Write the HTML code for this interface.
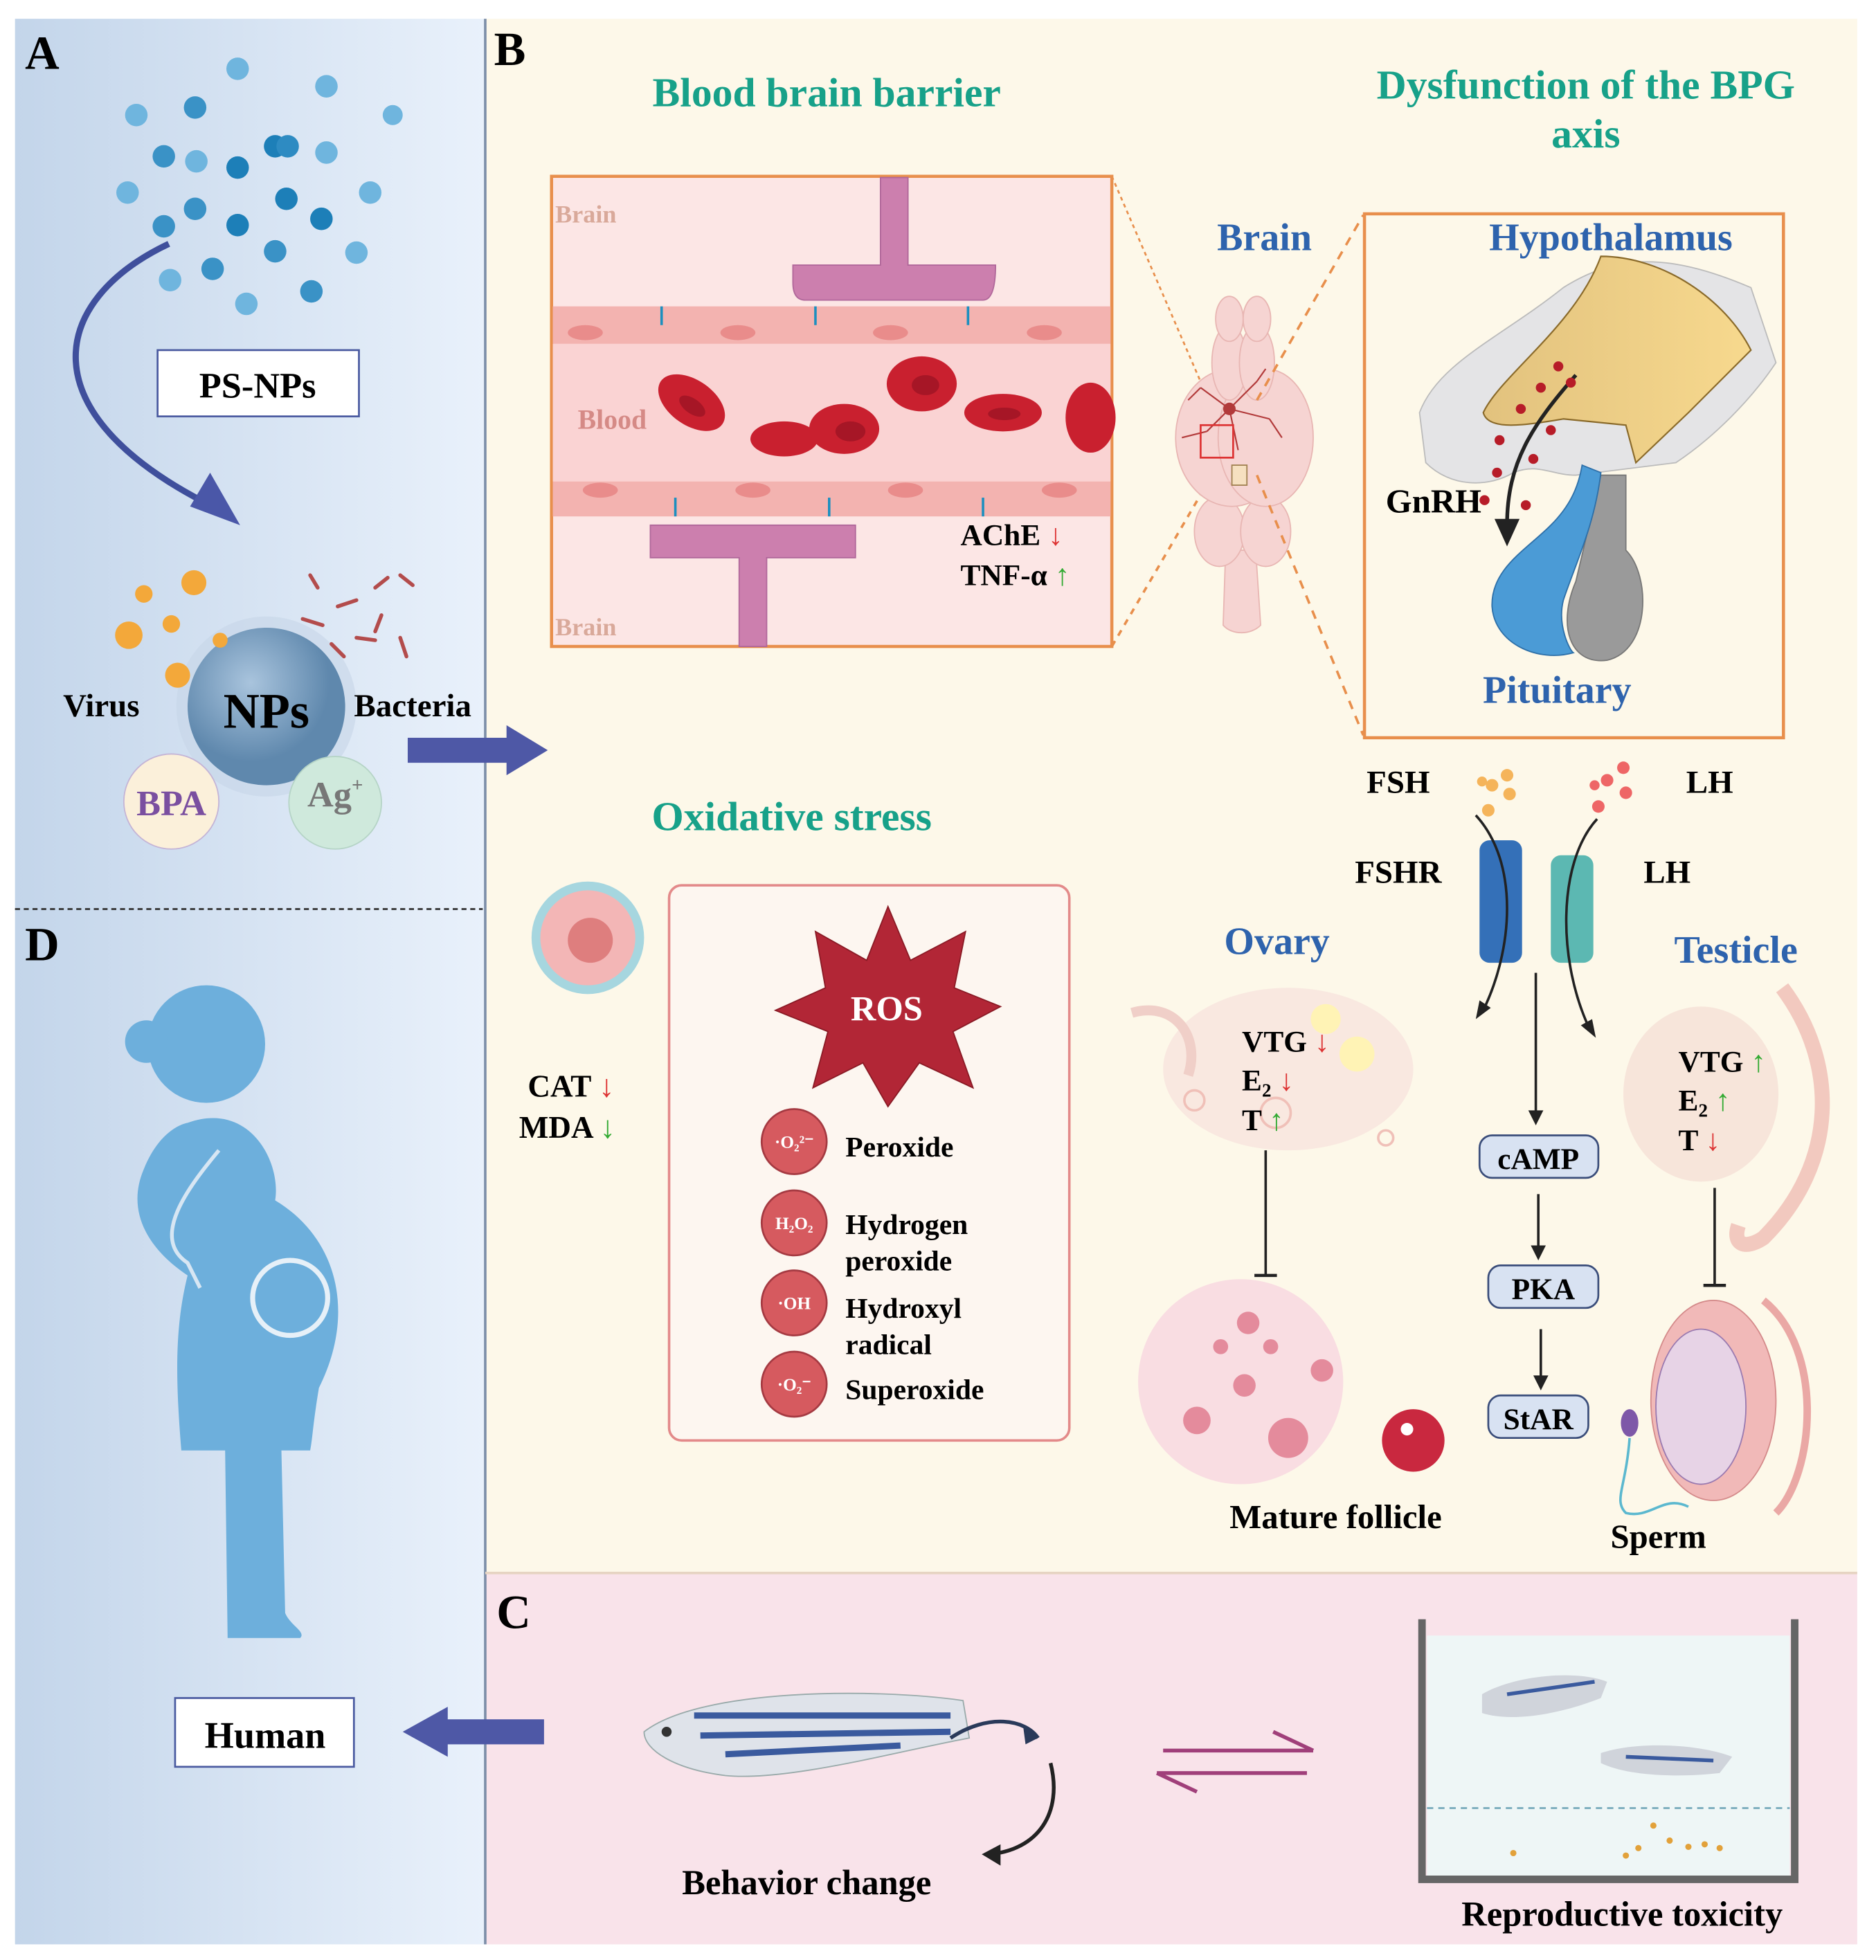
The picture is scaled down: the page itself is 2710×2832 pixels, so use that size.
<!DOCTYPE html>
<html><head><meta charset="utf-8"><style>
html,body{margin:0;padding:0;background:#fff}
svg{display:block}
text{font-family:"Liberation Serif",serif;font-weight:bold}
</style></head><body>
<svg width="2710" height="2832" viewBox="0 0 1500 1567.5" xmlns="http://www.w3.org/2000/svg">
<defs>
<linearGradient id="lg" x1="0" x2="1" y1="0" y2="0"><stop offset="0" stop-color="#c3d5ea"/><stop offset="1" stop-color="#e9f1fb"/></linearGradient>
<radialGradient id="np" cx="0.4" cy="0.35"><stop offset="0" stop-color="#a9c4dd"/><stop offset="1" stop-color="#5f88ad"/></radialGradient>
<linearGradient id="hy" x1="0" x2="1"><stop offset="0" stop-color="#e2c27e"/><stop offset="1" stop-color="#f7d98e"/></linearGradient>
</defs>
<rect width="1500" height="1568" fill="#fff"/>
<rect x="12" y="15" width="376" height="1540" fill="url(#lg)"/>
<line x1="12" y1="727" x2="386" y2="727" stroke="#333" stroke-width="1.5" stroke-dasharray="4,3"/>
<rect x="388" y="15" width="1097" height="1243" fill="#fdf8e9"/>
<rect x="388" y="1258" width="1097" height="297" fill="#f9e3ea"/>
<line x1="388" y1="15" x2="388" y2="1555" stroke="#7d8ea8" stroke-width="2"/>
<line x1="388" y1="1258" x2="1485" y2="1258" stroke="#e6d4c2" stroke-width="2"/>

<text x="20" y="55" font-size="38">A</text>
<text x="395" y="52" font-size="38">B</text>
<text x="397" y="1302" font-size="38">C</text>
<text x="20" y="768" font-size="38">D</text>

<g fill="#6fb5de">
<circle cx="190" cy="55" r="9"/><circle cx="261" cy="69" r="9"/><circle cx="109" cy="92" r="9"/><circle cx="156" cy="86" r="9" fill="#3a92c6"/><circle cx="314" cy="92" r="8"/>
<circle cx="131" cy="125" r="9" fill="#3a92c6"/><circle cx="157" cy="129" r="9"/><circle cx="190" cy="134" r="9" fill="#1d7fb8"/><circle cx="220" cy="117" r="9" fill="#1d7fb8"/><circle cx="230" cy="117" r="9" fill="#2e8bc2"/><circle cx="261" cy="122" r="9"/>
<circle cx="102" cy="154" r="9"/><circle cx="156" cy="167" r="9" fill="#3a92c6"/><circle cx="229" cy="159" r="9" fill="#1d7fb8"/><circle cx="296" cy="154" r="9"/>
<circle cx="131" cy="181" r="9" fill="#3a92c6"/><circle cx="190" cy="180" r="9" fill="#1d7fb8"/><circle cx="257" cy="175" r="9" fill="#1d7fb8"/>
<circle cx="220" cy="201" r="9" fill="#3a92c6"/><circle cx="285" cy="202" r="9"/><circle cx="170" cy="215" r="9" fill="#3a92c6"/><circle cx="136" cy="224" r="9"/><circle cx="249" cy="233" r="9" fill="#3a92c6"/><circle cx="197" cy="243" r="9"/>
</g>
<path d="M135,195 C40,240 20,330 170,405" fill="none" stroke="#3f4f9c" stroke-width="5"/>
<polygon points="192,420 152,405 168,378" fill="#4a57a8"/>
<rect x="126" y="280" width="161" height="53" fill="#fff" stroke="#4a5aa0" stroke-width="1.5"/>
<text x="206" y="318" font-size="29" text-anchor="middle">PS-NPs</text>
<circle cx="213" cy="565" r="72" fill="#c6d6e8" opacity="0.6"/>
<circle cx="213" cy="565" r="63" fill="url(#np)"/>
<circle cx="137" cy="641" r="38" fill="#fbf0da" stroke="#c4b4d6"/>
<text x="137" y="652" font-size="29" fill="#7a4fa0" text-anchor="middle">BPA</text>
<circle cx="268" cy="642" r="37" fill="#cfe9dc" stroke="#b5d4c6"/>
<text x="268" y="645" font-size="29" fill="#777" text-anchor="middle">Ag<tspan font-size="16" dy="-12">+</tspan></text>
<text x="213" y="582" font-size="40" text-anchor="middle">NPs</text>
<text x="81" y="573" font-size="26" text-anchor="middle">Virus</text>
<text x="330" y="573" font-size="26" text-anchor="middle">Bacteria</text>
<g fill="#f3a83a"><circle cx="155" cy="466" r="10"/><circle cx="115" cy="475" r="7"/><circle cx="103" cy="508" r="11"/><circle cx="137" cy="499" r="7"/><circle cx="142" cy="540" r="10"/><circle cx="176" cy="512" r="6"/></g>
<g stroke="#b34c4c" stroke-width="3" stroke-linecap="round">
<line x1="248" y1="460" x2="254" y2="470"/><line x1="270" y1="485" x2="285" y2="480"/><line x1="300" y1="470" x2="310" y2="462"/><line x1="320" y1="460" x2="330" y2="468"/><line x1="305" y1="492" x2="300" y2="505"/><line x1="242" y1="495" x2="258" y2="500"/><line x1="265" y1="515" x2="275" y2="525"/><line x1="320" y1="510" x2="325" y2="525"/><line x1="285" y1="510" x2="300" y2="512"/>
</g>
<polygon points="326,590 405,590 405,580 438,600 405,620 405,610 326,610" fill="#4e58a6"/>

<g fill="#6dafdc">
<circle cx="165" cy="835" r="47"/><circle cx="117" cy="833" r="17"/>
<path d="M150,898 C200,880 225,930 220,960 C270,990 285,1050 255,1110 C250,1140 250,1150 248,1160 L225,1160 L228,1290 C232,1300 245,1305 240,1310 L182,1310 L180,1160 L145,1160 C140,1100 140,1060 150,1020 C120,1000 100,970 115,935 C125,910 140,900 150,898 Z"/>
</g>
<path d="M175,920 C150,950 120,990 150,1010 L160,1030" fill="none" stroke="#d7e6f3" stroke-width="3"/>
<circle cx="232" cy="1038" r="30" fill="none" stroke="#e6f0f8" stroke-width="4"/>
<rect x="140" y="1358" width="143" height="55" fill="#fff" stroke="#4a5aa0" stroke-width="1.5"/>
<text x="212" y="1398" font-size="30" text-anchor="middle">Human</text>
<polygon points="435,1375 358,1375 358,1365 322,1385 358,1405 358,1395 435,1395" fill="#4e58a6"/>

<text x="661" y="85" font-size="33" fill="#17a189" text-anchor="middle">Blood brain barrier</text>
<text x="1268" y="79" font-size="33" fill="#17a189" text-anchor="middle">Dysfunction of the  BPG</text>
<text x="1268" y="118" font-size="33" fill="#17a189" text-anchor="middle">axis</text>
<text x="633" y="664" font-size="33" fill="#17a189" text-anchor="middle">Oxidative stress</text>

<rect x="441" y="141" width="448" height="376" fill="#fce6e5" stroke="#e88f4c" stroke-width="2.5"/>
<rect x="442" y="245" width="446" height="30" fill="#f3b3b0"/>
<rect x="442" y="385" width="446" height="28" fill="#f3b3b0"/>
<rect x="442" y="275" width="446" height="110" fill="#fad3d3"/>
<g fill="#e98c8b"><ellipse cx="468" cy="266" rx="14" ry="6"/><ellipse cx="590" cy="266" rx="14" ry="6"/><ellipse cx="712" cy="266" rx="14" ry="6"/><ellipse cx="835" cy="266" rx="14" ry="6"/><ellipse cx="480" cy="392" rx="14" ry="6"/><ellipse cx="602" cy="392" rx="14" ry="6"/><ellipse cx="724" cy="392" rx="14" ry="6"/><ellipse cx="847" cy="392" rx="14" ry="6"/></g>
<g stroke="#1c8fbf" stroke-width="2"><line x1="529" y1="245" x2="529" y2="260"/><line x1="652" y1="245" x2="652" y2="260"/><line x1="774" y1="245" x2="774" y2="260"/><line x1="540" y1="398" x2="540" y2="413"/><line x1="663" y1="398" x2="663" y2="413"/><line x1="786" y1="398" x2="786" y2="413"/></g>
<path d="M704,142 L726,142 L726,212 L796,212 Q796,240 786,240 L644,240 Q634,240 634,226 L634,212 L704,212 Z" fill="#cc7fae" stroke="#b0679a"/>
<path d="M520,420 L684,420 L684,446 L613,446 L613,517 L591,517 L591,446 L520,446 Z" fill="#cc7fae" stroke="#b0679a"/>
<g fill="#c9202f"><ellipse cx="553" cy="322" rx="30" ry="18" transform="rotate(35 553 322)"/><ellipse cx="627" cy="351" rx="27" ry="14"/><ellipse cx="675" cy="343" rx="28" ry="20"/><ellipse cx="737" cy="307" rx="28" ry="22"/><ellipse cx="802" cy="330" rx="31" ry="15"/><ellipse cx="872" cy="334" rx="20" ry="28"/></g>
<g fill="#a61626"><ellipse cx="555" cy="324" rx="12" ry="6" transform="rotate(35 553 322)"/><ellipse cx="680" cy="345" rx="12" ry="8"/><ellipse cx="740" cy="308" rx="11" ry="8"/><ellipse cx="803" cy="331" rx="13" ry="5"/></g>
<text x="444" y="178" font-size="20" fill="#d9a99a">Brain</text>
<text x="444" y="508" font-size="20" fill="#d9a99a">Brain</text>
<text x="462" y="343" font-size="22" fill="#d58a86">Blood</text>
<text x="768" y="436" font-size="24">AChE <tspan fill="#d33">↓</tspan></text>
<text x="768" y="468" font-size="24">TNF-α <tspan fill="#3a3">↑</tspan></text>
<line x1="889" y1="141" x2="975" y2="340" stroke="#e88f4c" stroke-width="1.5" stroke-dasharray="3,3"/>
<line x1="889" y1="517" x2="975" y2="370" stroke="#e88f4c" stroke-width="2" stroke-dasharray="5,5"/>

<text x="1011" y="200" font-size="31" fill="#2e63ad" text-anchor="middle">Brain</text>
<g fill="#f6d4d2" stroke="#e8b6b3">
<path d="M980,440 L1004,440 L1008,500 C1000,508 985,508 978,500 Z"/>
<ellipse cx="975" cy="425" rx="20" ry="28"/><ellipse cx="1012" cy="425" rx="20" ry="28"/>
<ellipse cx="985" cy="350" rx="45" ry="55"/><ellipse cx="1012" cy="350" rx="38" ry="55"/>
<ellipse cx="983" cy="290" rx="14" ry="30"/><ellipse cx="1005" cy="290" rx="14" ry="30"/>
<ellipse cx="983" cy="255" rx="11" ry="18"/><ellipse cx="1005" cy="255" rx="11" ry="18"/>
</g>
<g stroke="#b23a3a" stroke-width="1.2" fill="none"><path d="M983,327 L960,310 M983,327 L1005,305 M983,327 L1015,335 M983,327 L965,345 M983,327 L990,360 M960,310 L950,320 M1005,305 L1012,295 M965,345 L945,350 M1015,335 L1025,350"/></g>
<circle cx="983" cy="327" r="5" fill="#b23a3a"/>
<rect x="960" y="340" width="26" height="26" fill="none" stroke="#d33" stroke-width="1.5"/>
<rect x="985" y="372" width="12" height="16" fill="#f6e0c0" stroke="#a08050"/>
<line x1="1005" y1="320" x2="1090" y2="172" stroke="#e88f4c" stroke-width="2" stroke-dasharray="7,6"/>
<line x1="1005" y1="380" x2="1090" y2="588" stroke="#e88f4c" stroke-width="2" stroke-dasharray="7,6"/>

<rect x="1091" y="171" width="335" height="419" fill="#fdf8e9" stroke="#e88f4c" stroke-width="2.5"/>
<path d="M1135,330 C1150,290 1200,270 1250,230 C1290,205 1330,200 1400,230 L1420,290 C1400,320 1370,350 1340,370 L1260,380 C1240,380 1230,370 1210,378 C1190,390 1160,390 1140,370 Z" fill="#e4e4e6" stroke="#bbb"/>
<path d="M1186,330 C1200,300 1260,260 1280,205 C1330,205 1380,240 1400,280 L1350,330 L1308,370 L1300,340 L1250,335 C1220,340 1190,345 1186,330 Z" fill="url(#hy)" stroke="#8a6a2a" stroke-width="1.2"/>
<path d="M1280,380 L1300,380 L1300,440 C1320,460 1320,520 1285,528 C1255,532 1245,500 1260,465 Z" fill="#9a9a9a" stroke="#777"/>
<path d="M1265,372 L1280,378 C1275,420 1260,450 1250,480 C1245,500 1255,520 1258,522 C1230,530 1195,515 1193,485 C1192,455 1220,440 1240,420 C1255,405 1262,390 1265,372 Z" fill="#4b9bd6" stroke="#2d6fa8"/>
<path d="M1260,300 C1225,340 1205,370 1205,420" fill="none" stroke="#222" stroke-width="3"/>
<polygon points="1195,415 1215,415 1205,437" fill="#222"/>
<g fill="#b71c28"><circle cx="1246" cy="293" r="4"/><circle cx="1232" cy="310" r="4"/><circle cx="1216" cy="327" r="4"/><circle cx="1240" cy="344" r="4"/><circle cx="1199" cy="352" r="4"/><circle cx="1226" cy="367" r="4"/><circle cx="1197" cy="378" r="4"/><circle cx="1220" cy="404" r="4"/><circle cx="1187" cy="400" r="4"/><circle cx="1256" cy="306" r="4"/></g>
<text x="1108" y="410" font-size="27">GnRH</text>
<text x="1288" y="200" font-size="31" fill="#2e63ad" text-anchor="middle">Hypothalamus</text>
<text x="1245" y="562" font-size="31" fill="#2e63ad" text-anchor="middle">Pituitary</text>

<text x="1118" y="634" font-size="26" text-anchor="middle">FSH</text>
<text x="1367" y="634" font-size="26" text-anchor="middle">LH</text>
<text x="1118" y="706" font-size="26" text-anchor="middle">FSHR</text>
<text x="1333" y="706" font-size="26" text-anchor="middle">LH</text>
<g fill="#f5b45a"><circle cx="1205" cy="620" r="5"/><circle cx="1193" cy="628" r="5"/><circle cx="1207" cy="635" r="5"/><circle cx="1185" cy="625" r="4"/><circle cx="1190" cy="648" r="5"/></g>
<g fill="#e66"><circle cx="1298" cy="614" r="5"/><circle cx="1285" cy="624" r="5"/><circle cx="1300" cy="634" r="5"/><circle cx="1275" cy="628" r="4"/><circle cx="1278" cy="645" r="5"/></g>
<rect x="1183" y="672" width="34" height="98" rx="8" fill="#3470b8"/>
<rect x="1240" y="684" width="34" height="86" rx="8" fill="#5cb8b2"/>
<path d="M1180,652 C1215,690 1210,760 1185,810" fill="none" stroke="#222" stroke-width="2"/><polygon points="1180,815 1183,800 1192,806" fill="#222"/>
<path d="M1277,655 C1245,690 1245,770 1272,825" fill="none" stroke="#222" stroke-width="2"/><polygon points="1276,830 1264,820 1273,815" fill="#222"/>
<line x1="1228" y1="778" x2="1228" y2="890" stroke="#222" stroke-width="2"/><polygon points="1222,888 1234,888 1228,900" fill="#222"/>
<line x1="1230" y1="955" x2="1230" y2="998" stroke="#222" stroke-width="2"/><polygon points="1224,996 1236,996 1230,1008" fill="#222"/>
<line x1="1232" y1="1063" x2="1232" y2="1102" stroke="#222" stroke-width="2"/><polygon points="1226,1100 1238,1100 1232,1112" fill="#222"/>
<g fill="#d8e2f2" stroke="#3a4d7a" stroke-width="1.5">
<rect x="1183" y="908" width="95" height="34" rx="10"/><rect x="1190" y="1012" width="88" height="34" rx="10"/><rect x="1190" y="1116" width="80" height="34" rx="10"/></g>
<text x="1230" y="935" font-size="24" text-anchor="middle">cAMP</text>
<text x="1234" y="1039" font-size="24" text-anchor="middle">PKA</text>
<text x="1230" y="1143" font-size="24" text-anchor="middle">StAR</text>

<text x="1021" y="763" font-size="31" fill="#2e63ad" text-anchor="middle">Ovary</text>
<ellipse cx="1030" cy="855" rx="100" ry="65" fill="#f8e3dd" opacity="0.8"/>
<path d="M905,810 C940,800 960,830 950,860" fill="none" stroke="#f0cfc8" stroke-width="8"/>
<g fill="#fff3b5"><circle cx="1085" cy="843" r="14"/><circle cx="1060" cy="815" r="12"/></g>
<g fill="none" stroke="#f0c0b8" stroke-width="2"><circle cx="955" cy="880" r="8"/><circle cx="1020" cy="890" r="12"/><circle cx="1108" cy="910" r="6"/></g>
<text x="993" y="841" font-size="24">VTG <tspan fill="#d33">↓</tspan></text>
<text x="993" y="872" font-size="24">E<tspan font-size="15" dy="5">2</tspan><tspan dy="-5" fill="#d33"> ↓</tspan></text>
<text x="993" y="904" font-size="24">T <tspan fill="#3a3">↑</tspan></text>
<line x1="1012" y1="920" x2="1012" y2="1020" stroke="#222" stroke-width="2"/><line x1="1003" y1="1020" x2="1021" y2="1020" stroke="#222" stroke-width="2.5"/>
<circle cx="992" cy="1105" r="82" fill="#f9dde2"/>
<g fill="#e48b9c"><circle cx="998" cy="1058" r="9"/><circle cx="1057" cy="1096" r="9"/><circle cx="976" cy="1077" r="6"/><circle cx="1016" cy="1077" r="6"/><circle cx="995" cy="1108" r="9"/><circle cx="957" cy="1136" r="11"/><circle cx="1030" cy="1150" r="16"/><circle cx="1130" cy="1152" r="25" fill="#c9283f"/></g>
<circle cx="1125" cy="1143" r="5" fill="#fff"/>
<text x="1068" y="1222" font-size="27" text-anchor="middle">Mature follicle</text>

<text x="1388" y="770" font-size="31" fill="#2e63ad" text-anchor="middle">Testicle</text>
<ellipse cx="1360" cy="875" rx="62" ry="70" fill="#f6e2d8" opacity="0.9"/>
<path d="M1425,790 C1470,850 1470,930 1410,990 C1395,1000 1385,995 1390,980" fill="none" stroke="#f2c9bf" stroke-width="12"/>
<text x="1342" y="857" font-size="24">VTG <tspan fill="#3a3">↑</tspan></text>
<text x="1342" y="888" font-size="24">E<tspan font-size="15" dy="5">2</tspan><tspan dy="-5" fill="#3a3"> ↑</tspan></text>
<text x="1342" y="920" font-size="24">T <tspan fill="#d33">↓</tspan></text>
<line x1="1371" y1="950" x2="1371" y2="1028" stroke="#222" stroke-width="2"/><line x1="1362" y1="1028" x2="1380" y2="1028" stroke="#222" stroke-width="2.5"/>
<ellipse cx="1370" cy="1120" rx="50" ry="80" fill="#f1b9b8" stroke="#d48a8a"/>
<ellipse cx="1360" cy="1125" rx="36" ry="62" fill="#e7d3e6" stroke="#9a7ab0"/>
<path d="M1410,1040 C1460,1080 1450,1180 1420,1210" fill="none" stroke="#eaa8a5" stroke-width="6"/>
<ellipse cx="1303" cy="1138" rx="7" ry="11" fill="#7e58a8"/>
<path d="M1303,1150 C1300,1190 1290,1200 1300,1210 C1320,1215 1330,1195 1350,1205" fill="none" stroke="#5bb8cf" stroke-width="2"/>
<text x="1326" y="1238" font-size="27" text-anchor="middle">Sperm</text>

<circle cx="470" cy="750" r="45" fill="#a6d6df"/><circle cx="470" cy="750" r="38" fill="#f3b6b6"/><circle cx="472" cy="752" r="18" fill="#de7e7e"/>
<text x="422" y="877" font-size="25">CAT <tspan fill="#d33">↓</tspan></text>
<text x="415" y="910" font-size="25">MDA <tspan fill="#3a3">↓</tspan></text>
<rect x="535" y="708" width="320" height="444" rx="10" fill="#fdf6f0" stroke="#e38a8a" stroke-width="2"/>
<polygon points="710,725 728,768 772,745 763,790 800,805 762,825 778,870 735,850 710,885 690,850 650,870 662,825 620,808 660,790 652,745 693,768" fill="#b22636" stroke="#8a1a25"/>
<text x="709" y="816" font-size="28" fill="#fff" text-anchor="middle">ROS</text>
<g fill="#d65a5f" stroke="#a53a42" stroke-width="1.5">
<circle cx="635" cy="913" r="26"/><circle cx="635" cy="978" r="26"/><circle cx="635" cy="1042" r="26"/><circle cx="635" cy="1107" r="26"/></g>
<g font-size="14" fill="#fff" text-anchor="middle" style="font-family:'Liberation Sans',sans-serif;font-weight:normal">
<text x="635" y="918">·O₂²⁻</text><text x="635" y="983">H₂O₂</text><text x="635" y="1047">·OH</text><text x="635" y="1112">·O₂⁻</text></g>
<g font-size="23"><text x="676" y="925">Peroxide</text><text x="676" y="987">Hydrogen</text><text x="676" y="1016">peroxide</text><text x="676" y="1054">Hydroxyl</text><text x="676" y="1083">radical</text><text x="676" y="1119">Superoxide</text></g>

<path d="M515,1385 C560,1350 700,1350 770,1360 L775,1390 C720,1400 630,1425 580,1420 C540,1415 515,1400 515,1385 Z" fill="#dfe3ea" stroke="#9aa"/>
<g stroke="#3a5a9e" stroke-width="5"><line x1="555" y1="1372" x2="760" y2="1372"/><line x1="560" y1="1388" x2="760" y2="1385"/><line x1="580" y1="1403" x2="720" y2="1396"/></g>
<circle cx="533" cy="1385" r="4" fill="#333"/>
<path d="M760,1390 C790,1370 820,1375 830,1390" fill="none" stroke="#2a3a5a" stroke-width="3"/><polygon points="830,1390 818,1380 820,1395" fill="#2a3a5a"/>
<path d="M840,1410 C850,1450 830,1480 790,1483" fill="none" stroke="#222" stroke-width="3"/><polygon points="785,1483 800,1475 800,1492" fill="#222"/>
<text x="645" y="1515" font-size="28" text-anchor="middle">Behavior change</text>
<line x1="930" y1="1400" x2="1050" y2="1400" stroke="#a03f7a" stroke-width="3"/><polyline points="1018,1385 1050,1400" fill="none" stroke="#a03f7a" stroke-width="3"/>
<line x1="925" y1="1418" x2="1045" y2="1418" stroke="#a03f7a" stroke-width="3"/><polyline points="957,1433 925,1418" fill="none" stroke="#a03f7a" stroke-width="3"/>
<rect x="1141" y="1308" width="290" height="192" fill="#eef6f6"/>
<line x1="1141" y1="1446" x2="1431" y2="1446" stroke="#7ab" stroke-width="1.5" stroke-dasharray="5,4"/>
<path d="M1137,1295 L1137,1503 L1435,1503 L1435,1295" fill="none" stroke="#666" stroke-width="6"/>
<path d="M1185,1355 C1210,1340 1260,1335 1285,1345 L1280,1358 C1250,1370 1210,1378 1185,1370 Z" fill="#d0d4db"/>
<path d="M1280,1402 C1310,1392 1360,1395 1385,1405 L1375,1418 C1340,1422 1300,1420 1280,1410 Z" fill="#d0d4db"/>
<g stroke="#3a5a9e" stroke-width="3"><line x1="1205" y1="1355" x2="1275" y2="1345"/><line x1="1300" y1="1405" x2="1370" y2="1408"/></g>
<g fill="#e2a13a"><circle cx="1210" cy="1482" r="2.5"/><circle cx="1300" cy="1484" r="2.5"/><circle cx="1310" cy="1478" r="2.5"/><circle cx="1322" cy="1460" r="2.5"/><circle cx="1335" cy="1472" r="2.5"/><circle cx="1350" cy="1477" r="2.5"/><circle cx="1363" cy="1475" r="2.5"/><circle cx="1375" cy="1478" r="2.5"/></g>
<text x="1297" y="1540" font-size="28" text-anchor="middle">Reproductive toxicity</text>
</svg>
</body></html>
